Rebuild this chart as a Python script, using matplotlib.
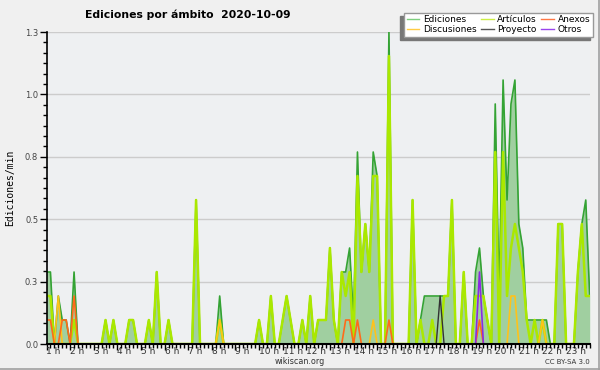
import numpy as np
import matplotlib.pyplot as plt
from matplotlib.lines import Line2D
from matplotlib.ticker import AutoMinorLocator

# ediciones por intervalo de 10 min, desde 1:00 hasta 24:00 (una fila por hora)
ediciones = [
    3, 3, 0, 2, 1, 1,
    0, 3, 0, 0, 0, 0,
    0, 0, 0, 1, 0, 1,
    0, 0, 0, 1, 1, 0,
    0, 0, 1, 0, 3, 0,
    0, 1, 0, 0, 0, 0,
    0, 0, 6, 0, 0, 0,
    0, 0, 2, 0, 0, 0,
    0, 0, 0, 0, 0, 0,
    1, 0, 0, 2, 0, 0,
    1, 2, 1, 0, 0, 1,
    0, 2, 0, 1, 1, 1,
    4, 1, 0, 3, 3, 4,
    1, 8, 3, 5, 3, 8,
    7, 0, 0, 13, 0, 0,
    0, 0, 0, 6, 0, 1,
    2, 2, 2, 2, 2, 2,
    2, 6, 0, 0, 3, 0,
    0, 3, 4, 2, 1, 0,
    10, 2, 11, 6, 10, 11,
    5, 4, 1, 1, 1, 1,
    1, 1, 0, 0, 5, 5,
    0, 0, 0, 3, 5, 6,
    2,
]
articulos = [
    2, 2, 0, 0, 0, 0,
    0, 1, 0, 0, 0, 0,
    0, 0, 0, 1, 0, 1,
    0, 0, 0, 1, 1, 0,
    0, 0, 1, 0, 3, 0,
    0, 1, 0, 0, 0, 0,
    0, 0, 6, 0, 0, 0,
    0, 0, 1, 0, 0, 0,
    0, 0, 0, 0, 0, 0,
    1, 0, 0, 2, 0, 0,
    1, 2, 1, 0, 0, 1,
    0, 2, 0, 1, 1, 1,
    4, 1, 0, 3, 2, 3,
    0, 7, 3, 5, 3, 7,
    7, 0, 0, 12, 0, 0,
    0, 0, 0, 6, 0, 1,
    0, 0, 1, 0, 0, 2,
    2, 6, 0, 0, 3, 0,
    0, 2, 2, 2, 1, 0,
    8, 0, 8, 2, 4, 5,
    4, 3, 1, 0, 1, 0,
    1, 0, 0, 0, 5, 5,
    0, 0, 0, 3, 5, 2,
    2,
]
# series pequenas: {indice de intervalo: ediciones}
anexos_pts = {0: 1, 1: 1, 4: 1, 5: 1, 7: 2, 76: 1, 77: 1, 79: 1, 87: 1, 110: 1}
discusiones_pts = {3: 2, 44: 1, 83: 1, 118: 2, 119: 2, 126: 1}
proyecto_pts = {100: 2}
otros_pts = {110: 3}

horas = [f"{h} h" for h in range(1, 24)]
ytick_labels = ["0.0", "0.3", "0.5", "0.8", "1.0", "1.3"]

n = len(ediciones)
x = 1 + np.arange(n) / 6


def serie(pts):
    v = np.zeros(n)
    for k, c in pts.items():
        v[k] = c
    return v / 10


ed = np.array(ediciones) / 10
art = np.array(articulos) / 10
anexos = serie(anexos_pts)
disc = serie(discusiones_pts)
proy = serie(proyecto_pts)
otros = serie(otros_pts)

fig = plt.figure(figsize=(6, 3.7), dpi=100, facecolor='#f0f0f0')
ax = fig.add_axes([46.5 / 600, 26 / 370, 543.2 / 600, 312 / 370])
ax.set_facecolor('#eef0f2')

ax.fill_between(x, ed, color='#a0cfa0', lw=0, zorder=1)
ax.plot(x, ed, color='#34a334', lw=1.2, zorder=3)
ax.plot(x, art, color='#aae800', lw=1.8, zorder=4)
ax.plot(x, disc, color='#ffc21a', lw=1.2, zorder=5)
ax.plot(x, anexos, color='#ff6a1a', lw=1.2, zorder=6)
ax.plot(x, proy, color='#333333', lw=1.0, zorder=7)
ax.plot(x, otros, color='#8a2be2', lw=1.2, zorder=8)

ax.set_xlim(1, 24)
ax.set_ylim(0, 1.3)

yt = np.linspace(0, 1.3, 6)
ax.set_yticks(yt, ytick_labels)
ax.yaxis.set_minor_locator(AutoMinorLocator(6))
ax.set_xticks(np.arange(1, 24), horas)
ax.xaxis.set_minor_locator(AutoMinorLocator(6))
for lab in ax.get_xticklabels():
    lab.set_ha('left')

ax.tick_params(axis='y', which='major', length=5, width=1, labelsize=6,
               labelcolor='#444444', pad=1)
ax.tick_params(axis='y', which='minor', length=3, width=1)
ax.tick_params(axis='x', which='major', length=4, width=1, labelsize=6.5,
               labelcolor='#333333', pad=-1.5)
ax.tick_params(axis='x', which='minor', length=3, width=1)

ax.yaxis.grid(True, color='#cccccc', lw=1)
ax.set_axisbelow(True)
for s in ['top', 'right']:
    ax.spines[s].set_visible(False)
ax.spines['bottom'].set_linewidth(1.5)
ax.spines['left'].set_linewidth(1.2)
ax.spines['bottom'].set_zorder(10)
ax.spines['left'].set_zorder(10)

fig.text(85 / 600, 1 - 15 / 370, 'Ediciones por ámbito  2020-10-09',
         fontsize=7.8, fontweight='bold', ha='left', va='center')
fig.text(10 / 600, 1 - 188 / 370, 'Ediciones/min', rotation=90,
         family='DejaVu Sans Mono', fontsize=7, ha='center', va='center')
fig.text(300 / 600, 1 - 362 / 370, 'wikiscan.org', fontsize=5.8,
         color='#333333', ha='center', va='center')
fig.text(590 / 600, 1 - 362 / 370, 'CC BY-SA 3.0', fontsize=5,
         color='#333333', ha='right', va='center')

handles = [
    Line2D([], [], color='#7fcf7f', lw=1),
    Line2D([], [], color='#ffcc44', lw=1),
    Line2D([], [], color='#ccee44', lw=1),
    Line2D([], [], color='#555555', lw=1),
    Line2D([], [], color='#ff7744', lw=1),
    Line2D([], [], color='#9944ee', lw=1),
]
labels = ['Ediciones', 'Discusiones', 'Artículos', 'Proyecto', 'Anexos', 'Otros']
leg = fig.legend(handles, labels, ncol=3, loc='upper right',
                 bbox_to_anchor=(593 / 600, 1 - 12.7 / 370), borderaxespad=0,
                 fontsize=6.5, frameon=True, fancybox=False,
                 edgecolor='#999999', framealpha=1, handlelength=1.4,
                 handletextpad=0.4, columnspacing=0.5, labelspacing=0.05,
                 borderpad=0.3,
                 shadow={'ox': -2.5, 'oy': -2.5, 'color': '#777777', 'alpha': 1})

fig.add_artist(Line2D([598.5 / 600, 598.5 / 600], [0, 1], color='#a0a0a0', lw=1.2))
fig.add_artist(Line2D([0, 1], [1.5 / 370, 1.5 / 370], color='#a0a0a0', lw=1.2))

fig.savefig('out.png', dpi=100, facecolor=fig.get_facecolor())
